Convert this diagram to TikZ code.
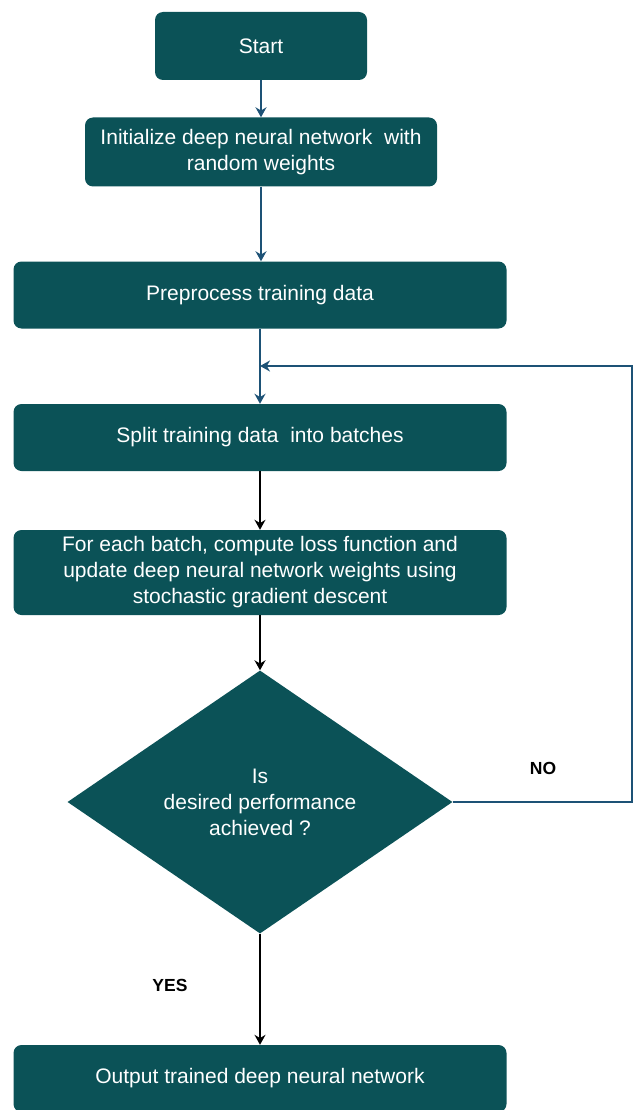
\documentclass[tikz,border=0pt]{standalone}
\usepackage{fontspec}
\setmainfont{Liberation Sans}
\usepackage{xcolor}
\usepackage{tikz}
\usetikzlibrary{positioning,arrows.meta,shapes.geometric}
\definecolor{tealbox}{HTML}{0B5257}
\definecolor{flowblue}{HTML}{1D5276}
\newcommand{\boxfont}{\fontsize{21}{26}\selectfont}

\begin{document}
\begin{tikzpicture}[x=1pt,y=-1pt,
    stepbox/.style={fill=tealbox,rounded corners=8pt,text=white,
                    align=center,inner sep=0pt,font=\boxfont},
    testbox/.style={diamond,fill=tealbox,text=white,align=center,
                    inner sep=0pt,aspect=1.46,font=\boxfont},
    blueflow/.style={draw=flowblue,line width=1.6pt,
                     -{Stealth[length=10pt,width=11pt]}},
    blackflow/.style={draw=black,line width=1.6pt,
                      -{Stealth[length=10pt,width=11pt]}},
    answer/.style={font=\bfseries\fontsize{17.5}{20}\selectfont}]
  \useasboundingbox (0,0) rectangle (633,1110);
  % Process steps
  \node[stepbox,minimum width=212,minimum height=68] (start) at (261,46) {Start};
  \node[stepbox,minimum width=352,minimum height=69] (init) at (261,152)
       {Initialize deep neural network\ \ with\\random weights};
  \node[stepbox,minimum width=493,minimum height=67] (prep) at (260,295)
       {Preprocess training data};
  \node[stepbox,minimum width=493,minimum height=67] (split) at (260,437.5)
       {Split training data\ \ into batches};
  \node[stepbox,minimum width=493,minimum height=85] (batch) at (260,572.5)
       {For each batch, compute loss function and\\
        update deep neural network weights using\\
        stochastic gradient descent};
  % Decision
  \node[testbox,minimum width=385,minimum height=263] (check) at (260,802)
       {Is\\desired performance\\achieved ?};
  \node[stepbox,minimum width=493,minimum height=67] (out) at (260,1078.5)
       {Output trained deep neural network};
  % Connectors
  \draw[blueflow] (start) -- (init);
  \draw[blueflow] (init) -- (init |- prep.north);
  \draw[blueflow] (prep) -- (split);
  \draw[blackflow] (split) -- (batch);
  \draw[blackflow] (batch) -- (check);
  \draw[blackflow] (check) -- (out);
  % Loop back
  \coordinate (back) at (632,0);
  \coordinate (merge) at (260,366);
  \draw[blueflow] (check.east) -- (check.east -| back) |- (merge);
  \node[answer] (no) at (543,768) {NO};
  \node[answer] (yes) at (170,985) {YES};
\end{tikzpicture}
\end{document}
